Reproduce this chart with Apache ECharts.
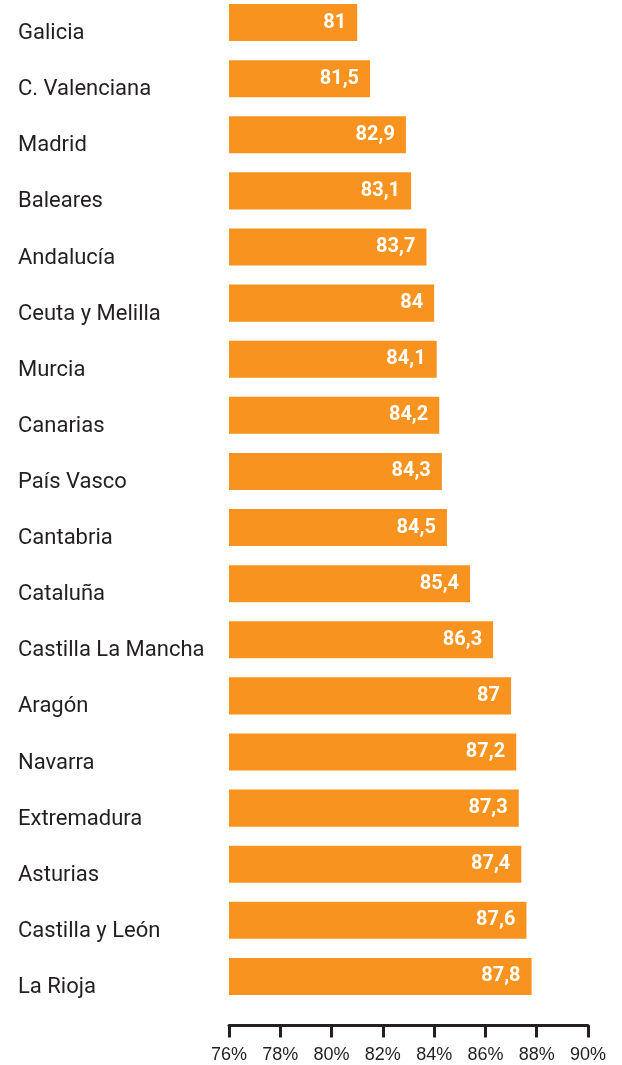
<!DOCTYPE html>
<html><head><meta charset="utf-8">
<script src="https://cdn.jsdelivr.net/npm/echarts@6/dist/echarts.min.js"></script>
<style>html,body{margin:0;padding:0;background:#fff}#c{width:622px;height:1065px}</style>
</head><body><div id="c"></div>
<script>
const categories = ["Galicia","C. Valenciana","Madrid","Baleares","Andalucía","Ceuta y Melilla","Murcia","Canarias","País Vasco","Cantabria","Cataluña","Castilla La Mancha","Aragón","Navarra","Extremadura","Asturias","Castilla y León","La Rioja"];
const values = [81,81.5,82.9,83.1,83.7,84,84.1,84.2,84.3,84.5,85.4,86.3,87,87.2,87.3,87.4,87.6,87.8];
const xTicks = [76,78,80,82,84,86,88,90];

const chart = echarts.init(document.getElementById('c'));
const FONT = '"Roboto","Liberation Sans",sans-serif';
chart.setOption({
  animation:false,
  grid:{left:229,right:34,top:-5.5,height:1010,outerBoundsMode:'none',containLabel:false},
  xAxis:{type:'value',min:xTicks[0],max:xTicks[xTicks.length-1],interval:2,position:'bottom',offset:21,
    axisLine:{show:true,lineStyle:{color:'#231f20',width:3}},
    axisTick:{show:true,length:12,lineStyle:{color:'#231f20',width:3}},
    splitLine:{show:false},
    axisLabel:{formatter:'{value}%',color:'#231f20',fontSize:18,fontFamily:'"Liberation Sans",Arial,sans-serif',margin:21}},
  yAxis:{type:'category',data:categories,inverse:true,
    axisLine:{show:false},axisTick:{show:false},
    axisLabel:{align:'left',verticalAlign:'top',lineHeight:22,margin:211,color:'#231f20',fontSize:22,fontFamily:FONT}},
  series:[{type:'bar',data:values,barCategoryGap:'34%',itemStyle:{color:'#F7931E'},
    label:{show:true,position:'insideRight',distance:11,color:'#fff',fontWeight:'bold',fontSize:20,fontFamily:FONT,
      formatter:p=>String(p.value).replace('.',',')}}]
});
</script></body></html>
